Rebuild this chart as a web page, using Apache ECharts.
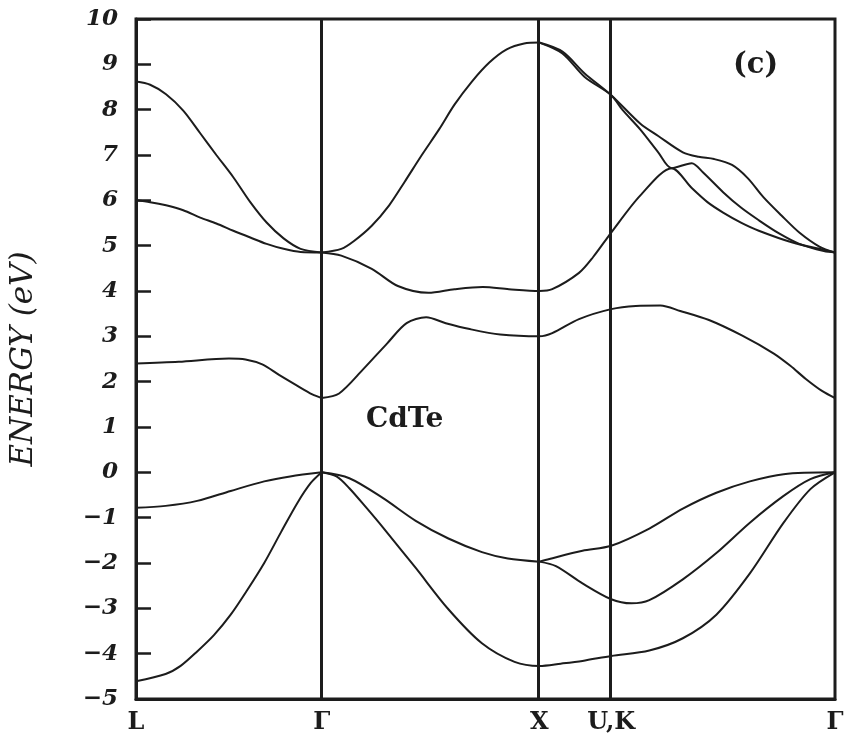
<!DOCTYPE html>
<html>
<head>
<meta charset="utf-8">
<script src="https://cdn.jsdelivr.net/npm/echarts@6/dist/echarts.min.js"></script>
<style>
html,body{margin:0;padding:0;background:#fff;}
#chart{width:851px;height:737px;}
</style>
</head>
<body>
<div id="chart"></div>
<script>
// k-path positions of the high-symmetry points and their labels
const kTicks = [0, 0.853, 1.853, 2.183, 3.211];
const kLabels = ['L', 'Γ', 'X', 'U,K', 'Γ'];
const yTicks = { min: -5, max: 10, step: 1 };

// ---- valence bands ----
const v2_LG = [[0,-4.61],[0.136,-4.45],[0.205,-4.27],[0.281,-3.95],[0.358,-3.59],[0.435,-3.14],[0.512,-2.59],[0.589,-2.0],[0.665,-1.33],[0.742,-0.67],[0.802,-0.24],[0.853,0]];
const v34_LG = [[0,-0.78],[0.136,-0.74],[0.281,-0.63],[0.435,-0.41],[0.589,-0.2],[0.708,-0.09],[0.853,0]];
const v2_GXKG = [[0.853,0],[0.921,-0.09],[0.980,-0.35],[1.058,-0.78],[1.135,-1.22],[1.285,-2.11],[1.435,-3.02],[1.589,-3.77],[1.739,-4.18],[1.853,-4.27],[1.951,-4.22],[2.051,-4.16],[2.183,-4.05],[2.358,-3.93],[2.512,-3.66],[2.666,-3.14],[2.820,-2.23],[2.975,-1.11],[3.098,-0.37],[3.211,0]];
const v34_GX = [[0.853,0],[0.980,-0.13],[1.135,-0.57],[1.285,-1.07],[1.435,-1.46],[1.589,-1.76],[1.708,-1.9],[1.853,-1.97]];
const v4_XKG = [[1.853,-1.97],[1.899,-1.91],[2.051,-1.73],[2.183,-1.62],[2.358,-1.24],[2.512,-0.8],[2.666,-0.45],[2.820,-0.2],[2.975,-0.04],[3.211,0]];
const v3_XKG = [[1.853,-1.97],[1.929,-2.07],[2.051,-2.45],[2.183,-2.8],[2.276,-2.89],[2.358,-2.82],[2.512,-2.36],[2.666,-1.78],[2.820,-1.11],[2.975,-0.52],[3.098,-0.15],[3.211,0]];

// ---- conduction bands ----
const c1_LG = [[0,2.4],[0.196,2.44],[0.427,2.51],[0.503,2.49],[0.580,2.38],[0.657,2.15],[0.734,1.93],[0.810,1.72],[0.853,1.64]];
const c1_GXKG = [[0.853,1.64],[0.933,1.74],[1.043,2.27],[1.153,2.84],[1.243,3.29],[1.333,3.42],[1.423,3.29],[1.533,3.16],[1.673,3.04],[1.853,3.0],[1.912,3.07],[2.035,3.38],[2.183,3.6],[2.296,3.67],[2.409,3.68],[2.500,3.56],[2.632,3.36],[2.783,3.02],[2.930,2.62],[3.006,2.35],[3.077,2.06],[3.153,1.79],[3.211,1.64]];
const c23_LG = [[0,6.0],[0.065,5.96],[0.138,5.89],[0.217,5.78],[0.295,5.62],[0.369,5.49],[0.447,5.33],[0.525,5.18],[0.600,5.04],[0.678,4.93],[0.756,4.86],[0.853,4.85]];
const c4_LG = [[0,8.62],[0.065,8.55],[0.138,8.34],[0.217,7.98],[0.295,7.48],[0.369,7.0],[0.447,6.51],[0.525,5.96],[0.600,5.51],[0.678,5.16],[0.756,4.93],[0.853,4.85]];
const c2_GXKG = [[0.853,4.85],[0.943,4.78],[1.083,4.49],[1.203,4.11],[1.343,3.96],[1.463,4.04],[1.593,4.09],[1.713,4.04],[1.853,4.0],[1.912,4.04],[2.035,4.4],[2.10,4.75],[2.183,5.29],[2.317,6.11],[2.461,6.71],[2.553,6.27],[2.625,5.96],[2.697,5.73],[2.779,5.51],[2.861,5.33],[3.016,5.07],[3.160,4.91],[3.211,4.85]];
const c34_GX = [[0.853,4.85],[0.943,4.93],[1.003,5.11],[1.083,5.44],[1.163,5.89],[1.233,6.4],[1.313,7.0],[1.393,7.57],[1.463,8.11],[1.543,8.62],[1.623,9.04],[1.703,9.33],[1.783,9.46],[1.853,9.48]];
const c3_XKG = [[1.853,9.48],[1.959,9.24],[2.061,8.72],[2.183,8.32],[2.234,8.0],[2.317,7.56],[2.399,7.06],[2.461,6.71],[2.553,6.82],[2.604,6.62],[2.697,6.18],[2.779,5.84],[2.861,5.56],[2.954,5.27],[3.047,5.04],[3.160,4.88],[3.211,4.85]];
const c4_XKG = [[1.853,9.48],[1.959,9.28],[2.061,8.80],[2.183,8.32],[2.317,7.69],[2.399,7.42],[2.512,7.06],[2.584,6.96],[2.656,6.91],[2.738,6.78],[2.810,6.49],[2.882,6.07],[2.964,5.67],[3.047,5.29],[3.139,4.98],[3.211,4.85]];

const curves = [v2_LG, v34_LG, v2_GXKG, v34_GX, v4_XKG, v3_XKG,
                c1_LG, c1_GXKG, c23_LG, c4_LG, c2_GXKG, c34_GX, c3_XKG, c4_XKG];

const INK = '#1c1c1c';
const chart = echarts.init(document.getElementById('chart'), null, { renderer: 'canvas' });

const series = curves.map((d) => ({
  type: 'line',
  data: d,
  showSymbol: false,
  smooth: 0.3,
  silent: true,
  lineStyle: { color: INK, width: 2 },
  z: 3
}));
series[0].markLine = {
  silent: true,
  symbol: 'none',
  label: { show: false },
  lineStyle: { color: INK, width: 3, type: 'solid' },
  data: [{ xAxis: kTicks[1] }, { xAxis: kTicks[2] }, { xAxis: kTicks[3] }]
};

chart.setOption({
  animation: false,
  backgroundColor: '#fff',
  grid: { left: 135, right: 16, top: 19, bottom: 38, show: true, borderColor: INK, borderWidth: 3 },
  xAxis: {
    type: 'value',
    min: kTicks[0],
    max: kTicks[kTicks.length - 1],
    axisLine: { show: true, onZero: false, lineStyle: { color: INK, width: 3 } },
    axisTick: { show: false },
    splitLine: { show: false },
    axisLabel: {
      customValues: kTicks,
      formatter: function (v) {
        for (let i = 0; i < kTicks.length; i++) if (Math.abs(kTicks[i] - v) < 1e-6) return kLabels[i];
        return '';
      },
      fontFamily: 'DejaVu Serif',
      fontWeight: 'bold',
      fontSize: 24,
      color: INK,
      margin: 12
    }
  },
  yAxis: {
    type: 'value',
    min: yTicks.min,
    max: yTicks.max,
    interval: yTicks.step,
    name: 'ENERGY (eV)',
    nameLocation: 'middle',
    nameRotate: 90,
    nameGap: 97,
    nameTextStyle: { fontFamily: 'DejaVu Serif', fontStyle: 'italic', fontSize: 31, color: INK },
    axisLine: { show: true, onZero: false, lineStyle: { color: INK, width: 3 } },
    axisTick: { show: true, inside: true, length: 15, lineStyle: { color: INK, width: 2.5 } },
    splitLine: { show: false },
    axisLabel: {
      formatter: function (v) { return v < 0 ? '\u2212' + (-v) : String(v); },
      fontFamily: 'DejaVu Serif',
      fontWeight: 'bold',
      fontStyle: 'italic',
      fontSize: 23,
      color: INK,
      margin: 18
    }
  },
  graphic: [
    { type: 'text', left: 733, top: 51, silent: true,
      style: { text: '(c)', fontFamily: 'DejaVu Serif', fontWeight: 'bold', fontSize: 29, fill: INK } },
    { type: 'text', left: 366, top: 406, silent: true,
      style: { text: 'CdTe', fontFamily: 'DejaVu Serif', fontWeight: 'bold', fontSize: 28, fill: INK } }
  ],
  series: series
});
</script>
</body>
</html>
